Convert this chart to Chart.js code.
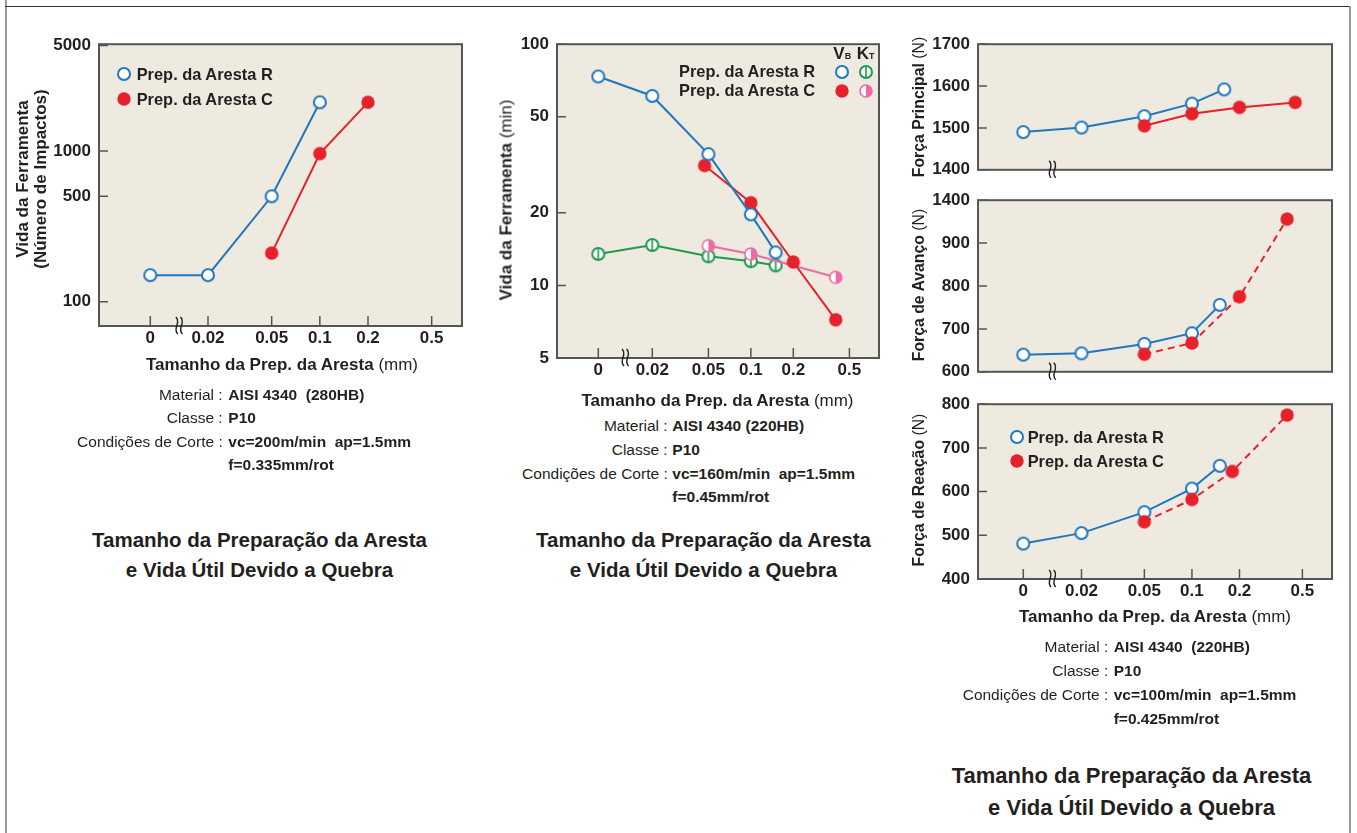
<!DOCTYPE html>
<html>
<head>
<meta charset="utf-8">
<script src="https://cdn.jsdelivr.net/npm/chart.js@4.4.1/dist/chart.umd.min.js"></script>
<style>
  body { margin: 0; background: #fff; }
  #page { position: relative; width: 1357px; height: 833px; overflow: hidden;
          font-family: "Liberation Sans", Arial, sans-serif; color: #231f20; }
  #page > div { position: absolute; white-space: nowrap; line-height: 1; }
  canvas { position: absolute; }
  .b { font-weight: bold; }
  .n { font-weight: normal; }
  .mid { transform: translate(-50%, -50%); }
  .vmid { transform: translateY(-50%); }
  .rmid { transform: translate(-100%, -50%); }
  .rot { transform: translate(-50%, -50%) rotate(-90deg); }
</style>
</head>
<body>
<div id="page">
  <div style="left:5px;top:0;width:2px;height:833px;background:#9a9a9a"></div>
  <div style="left:5px;top:6px;width:1346px;height:1px;background:#333"></div>
  <div style="left:1349px;top:6px;width:2px;height:827px;background:#9a9a9a"></div>

  <canvas id="c1"></canvas>
  <canvas id="c2"></canvas>
  <canvas id="c3a"></canvas>
  <canvas id="c3b"></canvas>
  <canvas id="c3c"></canvas>
</div>
<script>
// ---- data ----
// edge preparation size (mm), shared x axis
const xTickValues = [0, 0.02, 0.05, 0.1, 0.2, 0.5];
const xTickLabels = ["0", "0.02", "0.05", "0.1", "0.2", "0.5"];

// left chart: tool life in impacts (280HB)
const impactX_R = [0, 0.02, 0.05, 0.1];
const impactR = [150, 150, 500, 2100];
const impactX_C = [0.05, 0.1, 0.2];
const impactC = [210, 960, 2100];
const impactTicks = [100, 500, 1000, 5000];

// middle chart: tool life in minutes (220HB), VB and KT criteria
const minX_R = [0, 0.02, 0.05, 0.1, 0.15];
const minVB_R = [73.5, 61, 35, 19.7, 13.7];
const minKT_R = [13.5, 14.7, 13.2, 12.6, 12.1];
const minX_C = [0.047, 0.1, 0.2, 0.4];
const minVB_C = [31.4, 22, 12.5, 7.2];
const minKTX_C = [0.05, 0.1, 0.4];
const minKT_C = [14.6, 13.5, 10.8];
const minTicks = [5, 10, 20, 50, 100];

// right charts: cutting forces (N)
const principalX_R = [0, 0.02, 0.05, 0.1, 0.16];
const principalR = [1490, 1501, 1528, 1558, 1592];
const principalX_C = [0.05, 0.1, 0.2, 0.45];
const principalC = [1505, 1534, 1549, 1561];
const principalTicks = [1400, 1500, 1600, 1700];

const avancoX_R = [0, 0.02, 0.05, 0.1, 0.15];
const avancoR = [640, 643, 665, 690, 756];
const avancoX_C = [0.05, 0.1, 0.2, 0.4];
const avancoC = [641, 667, 775, 1180];
const avancoTicks = [600, 700, 800, 900, 1400];

const reacaoX_R = [0, 0.02, 0.05, 0.1, 0.15];
const reacaoR = [481, 505, 553, 607, 659];
const reacaoX_C = [0.05, 0.1, 0.18, 0.4];
const reacaoC = [531, 582, 646, 775];
const reacaoTicks = [400, 500, 600, 700, 800];

// ---- style ----
const BLUE = "#1f77bf", RED = "#e6212b", GREEN = "#1a9c4c", PINK = "#ee6aa7";
const INK = "#231f20", PLOT_BG = "#eeeae0", PLOT_EDGE = "#555";
const FONT = '"Liberation Sans", Arial, sans-serif';
const PAD_L = 70, PAD_T = 14, PAD_R = 12;

function makeMarker(kind) {
  const c = document.createElement("canvas");
  c.width = 18; c.height = 18;
  const g = c.getContext("2d");
  const r = 6;
  g.lineWidth = 2;
  if (kind === "filled") {
    g.beginPath(); g.arc(9, 9, 6.7, 0, Math.PI * 2);
    g.fillStyle = RED; g.fill();
    return c;
  }
  g.beginPath(); g.arc(9, 9, r, 0, Math.PI * 2);
  g.fillStyle = "#fff"; g.fill();
  if (kind === "open") { g.strokeStyle = BLUE; g.stroke(); }
  if (kind === "green") {
    g.strokeStyle = GREEN; g.stroke();
    g.lineWidth = 1.6;
    g.beginPath(); g.moveTo(9, 3); g.lineTo(9, 15); g.stroke();
  }
  if (kind === "pink") {
    g.beginPath(); g.moveTo(9, 9 - r); g.arc(9, 9, r, -Math.PI / 2, Math.PI / 2); g.closePath();
    g.fillStyle = PINK; g.fill();
    g.lineWidth = 1.6; g.strokeStyle = PINK;
    g.beginPath(); g.arc(9, 9, r, 0, Math.PI * 2); g.stroke();
  }
  return c;
}

// plot background, full frame, inward ticks and the axis break
const plotFrame = {
  id: "plotFrame",
  beforeDraw(chart) {
    const a = chart.chartArea, g = chart.ctx;
    g.save();
    g.fillStyle = PLOT_BG;
    g.fillRect(a.left, a.top, a.right - a.left, a.bottom - a.top);
    g.restore();
  },
  afterDraw(chart, args, o) {
    const a = chart.chartArea, g = chart.ctx;
    const x = chart.scales.x, y = chart.scales.y;
    g.save();
    g.strokeStyle = PLOT_EDGE;
    g.lineWidth = 2;
    g.strokeRect(a.left, a.top, a.right - a.left, a.bottom - a.top);
    g.lineWidth = 1.5;
    g.beginPath();
    y.ticks.forEach(t => {
      const p = y.getPixelForValue(t.value);
      g.moveTo(a.left, p); g.lineTo(a.left + 9, p);
    });
    if (o.xTicks) {
      x.ticks.forEach(t => {
        const p = x.getPixelForValue(t.value);
        g.moveTo(p, a.bottom); g.lineTo(p, a.bottom - 10);
      });
    }
    g.stroke();
    // two little vertical S strokes marking the jump from 0 to 0.02
    const bx = (x.getPixelForValue(o.breakA) + x.getPixelForValue(o.breakB)) / 2;
    const top = a.bottom - 9, bot = a.bottom + 8;
    g.strokeStyle = INK;
    g.lineWidth = 1.4;
    [-2.3, 2.3].forEach(d => {
      g.beginPath();
      g.moveTo(bx + d - 1, top);
      g.bezierCurveTo(bx + d + 5, top + 6, bx + d - 5, bot - 6, bx + d + 1, bot);
      g.stroke();
    });
    g.restore();
  }
};

function panel(id, box, map, yCfg, makeSets, showX) {
  const padB = showX ? 34 : 14;
  const cv = document.getElementById(id);
  cv.width = box.w + PAD_L + PAD_R;
  cv.height = box.h + PAD_T + padB;
  cv.style.left = (box.left - PAD_L) + "px";
  cv.style.top = (box.top - PAD_T) + "px";

  const l02 = Math.log10(0.02);
  const pos = v => v === 0 ? l02 - map.zeroGap / map.perDec : Math.log10(v);
  const xmin = l02 - map.leftGap / map.perDec;
  const tickFont = { family: FONT, size: 17, weight: "bold" };
  const yMap = yCfg.map || (v => v);

  new Chart(cv, {
    type: "scatter",
    data: { datasets: makeSets(pos, yMap) },
    options: {
      responsive: false,
      animation: false,
      events: [],
      layout: { padding: { left: 0, top: PAD_T, right: PAD_R, bottom: 0 } },
      plugins: {
        legend: { display: false },
        tooltip: { enabled: false },
        plotFrame: { xTicks: showX, breakA: pos(0), breakB: pos(0.02) }
      },
      scales: {
        x: {
          type: "linear", min: xmin, max: xmin + box.w / map.perDec,
          grid: { display: false, drawTicks: false }, border: { display: false },
          afterBuildTicks: s => { s.ticks = xTickValues.map(v => ({ value: pos(v) })); },
          afterFit: s => { s.height = padB; },
          ticks: {
            display: showX, autoSkip: false, maxRotation: 0, padding: 2.4,
            color: INK, font: tickFont, callback: (v, i) => xTickLabels[i]
          }
        },
        y: {
          type: yCfg.log ? "logarithmic" : "linear", min: yCfg.min, max: yCfg.max,
          grid: { display: false, drawTicks: false }, border: { display: false },
          afterBuildTicks: s => { s.ticks = yCfg.ticks.map(v => ({ value: yMap(v) })); },
          afterFit: s => { s.width = PAD_L; },
          ticks: { padding: 8, color: INK, font: tickFont, callback: (v, i) => String(yCfg.ticks[i]) }
        }
      }
    },
    plugins: [plotFrame]
  });
}

function series(pos, yMap, xs, ys, color, marker, extra) {
  return Object.assign({
    data: xs.map((x, i) => ({ x: pos(x), y: yMap(ys[i]) })),
    showLine: true, tension: 0,
    borderColor: color, borderWidth: 2,
    pointStyle: makeMarker(marker), pointRadius: 8, pointHoverRadius: 8
  }, extra || {});
}

// left chart
panel("c1", { left: 99, top: 40, w: 363, h: 286 },
  { perDec: 160, leftGap: 109, zeroGap: 57.7 },
  { log: true, min: 69, max: 5100, ticks: impactTicks },
  (pos, m) => [
    series(pos, m, impactX_R, impactR, BLUE, "open"),
    series(pos, m, impactX_C, impactC, RED, "filled")
  ], true);

// middle chart
panel("c2", { left: 557, top: 40, w: 322, h: 318 },
  { perDec: 141, leftGap: 95.3, zeroGap: 54 },
  { log: true, min: 5, max: 100, ticks: minTicks },
  (pos, m) => [
    series(pos, m, minX_R, minVB_R, BLUE, "open"),
    series(pos, m, minX_C, minVB_C, RED, "filled"),
    series(pos, m, minKTX_C, minKT_C, PINK, "pink"),
    series(pos, m, minX_R, minKT_R, GREEN, "green")
  ], true);

// right charts
const forceMap = { perDec: 158, leftGap: 103.5, zeroGap: 58.2 };
const dashed = { borderDash: [7, 5] };

panel("c3a", { left: 978, top: 40, w: 354, h: 134 }, forceMap,
  { min: 1400, max: 1700, ticks: principalTicks },
  (pos, m) => [
    series(pos, m, principalX_C, principalC, RED, "filled"),
    series(pos, m, principalX_R, principalR, BLUE, "open")
  ], false);

// feed force axis is broken above 900 N: 900..1400 squeezed into one step
const squeeze = v => v <= 900 ? v : 900 + (v - 900) / 5;
panel("c3b", { left: 978, top: 196, w: 354, h: 180 }, forceMap,
  { min: 600, max: 1000, ticks: avancoTicks, map: squeeze },
  (pos, m) => [
    series(pos, m, avancoX_C, avancoC, RED, "filled", dashed),
    series(pos, m, avancoX_R, avancoR, BLUE, "open")
  ], false);

panel("c3c", { left: 978, top: 400, w: 354, h: 179 }, forceMap,
  { min: 400, max: 800, ticks: reacaoTicks },
  (pos, m) => [
    series(pos, m, reacaoX_C, reacaoC, RED, "filled", dashed),
    series(pos, m, reacaoX_R, reacaoR, BLUE, "open")
  ], true);

// ---- texts ----
const page = document.getElementById("page");
function txt(html, x, y, cls, size) {
  const d = document.createElement("div");
  d.className = cls;
  d.style.left = x + "px";
  d.style.top = y + "px";
  d.style.fontSize = size + "px";
  d.innerHTML = html;
  page.appendChild(d);
}
function mark(kind, cx, cy) {
  const c = makeMarker(kind);
  c.style.left = (cx - 9) + "px";
  c.style.top = (cy - 9) + "px";
  page.appendChild(c);
}
function info(colonX, valueX, ys, rows) {
  rows.forEach((r, i) => {
    if (r[0]) txt(r[0], colonX, ys[i], "rmid", 15.5);
    txt(r[1], valueX, ys[i], "vmid b", 15.5);
  });
}

// axis titles
txt("Vida da Ferramenta", 21.7, 179, "rot b", 17);
txt("(Número de Impactos)", 40, 179, "rot b", 17);
txt('Tamanho da Prep. da Aresta <span class="n">(mm)</span>', 282, 363.8, "mid b", 17);
txt('Vida da Ferramenta <span class="n">(min)</span>', 506, 199.5, "rot b", 17);
txt('Tamanho da Prep. da Aresta <span class="n">(mm)</span>', 717.5, 399.7, "mid b", 17);
txt('Força Principal <span class="n">(N)</span>', 918.5, 106.7, "rot b", 15.8);
txt('Força de Avanço <span class="n">(N)</span>', 918.5, 285, "rot b", 15.8);
txt('Força de Reação <span class="n">(N)</span>', 919, 490, "rot b", 15.8);
txt('Tamanho da Prep. da Aresta <span class="n">(mm)</span>', 1155, 616.3, "mid b", 17);

// legends
mark("open", 124.3, 74); txt("Prep. da Aresta R", 136.7, 74, "vmid b", 16.4);
mark("filled", 124.3, 99.3); txt("Prep. da Aresta C", 136.7, 99.3, "vmid b", 16.4);

txt('V<span style="font-size:9px">B</span>', 833.3, 53, "vmid b", 17);
txt('K<span style="font-size:9px">T</span>', 856.7, 53, "vmid b", 17);
txt("Prep. da Aresta R", 815, 71, "rmid b", 16.4);
txt("Prep. da Aresta C", 815, 90, "rmid b", 16.4);
mark("open", 841.5, 72.3); mark("green", 865.5, 72.3);
mark("filled", 841.5, 90.7); mark("pink", 865.5, 90.7);

mark("open", 1016.7, 436.7); txt("Prep. da Aresta R", 1027.7, 436.7, "vmid b", 16.4);
mark("filled", 1016.7, 461); txt("Prep. da Aresta C", 1027.7, 461, "vmid b", 16.4);

// test conditions
info(222.7, 228.3, [394.5, 418.3, 441.8, 465.3], [
  ["Material :", "AISI 4340&nbsp; (280HB)"],
  ["Classe :", "P10"],
  ["Condições de Corte :", "vc=200m/min&nbsp; ap=1.5mm"],
  ["", "f=0.335mm/rot"]
]);
info(667.7, 672.3, [425.5, 449.7, 473.7, 496.7], [
  ["Material :", "AISI 4340 (220HB)"],
  ["Classe :", "P10"],
  ["Condições de Corte :", "vc=160m/min&nbsp; ap=1.5mm"],
  ["", "f=0.45mm/rot"]
]);
info(1108.3, 1113.7, [647.2, 671.2, 695, 719], [
  ["Material :", "AISI 4340&nbsp; (220HB)"],
  ["Classe :", "P10"],
  ["Condições de Corte :", "vc=100m/min&nbsp; ap=1.5mm"],
  ["", "f=0.425mm/rot"]
]);

// captions
txt("Tamanho da Preparação da Aresta", 259.5, 539.5, "mid b", 20.5);
txt("e Vida Útil Devido a Quebra", 259.5, 569.8, "mid b", 20.5);
txt("Tamanho da Preparação da Aresta", 703.5, 540, "mid b", 20.5);
txt("e Vida Útil Devido a Quebra", 703.5, 570, "mid b", 20.5);
txt("Tamanho da Preparação da Aresta", 1131.5, 776.3, "mid b", 22);
txt("e Vida Útil Devido a Quebra", 1131.5, 808.3, "mid b", 22);
</script>
</body>
</html>
